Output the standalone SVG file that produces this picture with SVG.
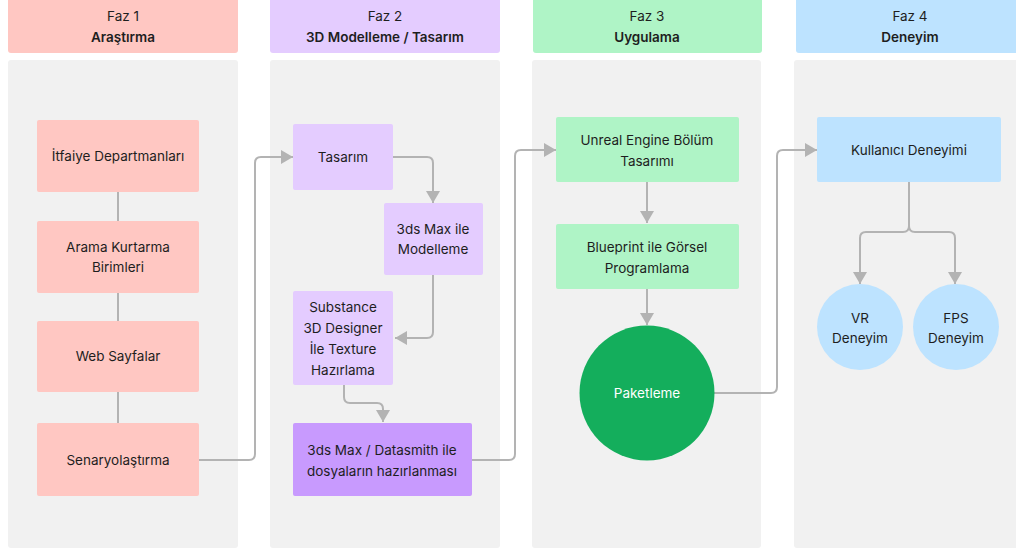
<svg xmlns="http://www.w3.org/2000/svg" width="1016" height="553" viewBox="0 0 1016 553">
<style>
text{font-family:Inter,"Noto Sans","Liberation Sans",sans-serif;font-size:13.5px;fill:#1e1e1e;text-anchor:middle;dominant-baseline:central}
.b{font-weight:600}
.panel{fill:#f1f1f1}
.p1{fill:#ffc7c2}.p2{fill:#e4ccff}.p2d{fill:#c89afe}.p3{fill:#aff4c6}.p3d{fill:#14ae5c}.p4{fill:#bde3ff}
.c{fill:none;stroke:#b3b3b3;stroke-width:2}
.w{fill:#ffffff}
</style>
<defs>
<marker id="ah" markerUnits="userSpaceOnUse" markerWidth="14" markerHeight="14" refX="12" refY="7" orient="auto">
<path d="M0,0 L12,7 L0,14 z" fill="#b3b3b3"/>
</marker>
</defs>
<g id="phases">
<rect class="p1" x="8" y="-4" width="230" height="57" rx="3"/>
<rect class="panel" x="8" y="60" width="230" height="488" rx="3"/>
<text x="123" y="16">Faz 1</text><text class="b" x="123" y="37">Araştırma</text>
<rect class="p2" x="270" y="-4" width="230" height="57" rx="3"/>
<rect class="panel" x="270" y="60" width="230" height="488" rx="3"/>
<text x="385" y="16">Faz 2</text><text class="b" x="385" y="37">3D Modelleme / Tasarım</text>
<rect class="p3" x="533" y="-4" width="229" height="57" rx="3"/>
<rect class="panel" x="532" y="60" width="229" height="488" rx="3"/>
<text x="647" y="16">Faz 3</text><text class="b" x="647" y="37">Uygulama</text>
<rect class="p4" x="796" y="-4" width="230" height="57" rx="3"/>
<rect class="panel" x="794" y="60" width="232" height="488" rx="3"/>
<text x="910" y="16">Faz 4</text><text class="b" x="910" y="37">Deneyim</text>
</g>
<g id="connectors">
<path class="c" d="M118,192 V221 M118,293 V321 M118,392 V423"/>
<path class="c" marker-end="url(#ah)" d="M199,460 H249 Q255,460 255,454 V163 Q255,157 261,157 H293"/>
<path class="c" marker-end="url(#ah)" d="M393,157 H427 Q433,157 433,163 V203"/>
<path class="c" marker-end="url(#ah)" d="M433,275 V332 Q433,338 427,338 H395"/>
<path class="c" marker-end="url(#ah)" d="M344,385 V397 Q344,403 350,403 H377 Q383,403 383,409 V422"/>
<path class="c" marker-end="url(#ah)" d="M472,460 H509 Q515,460 515,454 V156 Q515,150 521,150 H556"/>
<path class="c" marker-end="url(#ah)" d="M647,182 V223"/>
<path class="c" marker-end="url(#ah)" d="M647,289 V325"/>
<path class="c" marker-end="url(#ah)" d="M714,393 H771 Q777,393 777,387 V156 Q777,150 783,150 H817"/>
<path class="c" marker-end="url(#ah)" d="M909,182 V226 Q909,232 903,232 H866 Q860,232 860,238 V284"/>
<path class="c" marker-end="url(#ah)" d="M909,182 V226 Q909,232 915,232 H949 Q955,232 955,238 V284"/>
</g>
<g id="n-itfaiye"><rect class="p1" x="37" y="120" width="162" height="72" rx="2"/><text x="118" y="156">İtfaiye Departmanları</text></g>
<g id="n-arama"><rect class="p1" x="37" y="221" width="162" height="72" rx="2"/><text x="118" y="247">Arama Kurtarma</text><text x="118" y="267">Birimleri</text></g>
<g id="n-web"><rect class="p1" x="37" y="321" width="162" height="71" rx="2"/><text x="118" y="356">Web Sayfalar</text></g>
<g id="n-senaryo"><rect class="p1" x="37" y="423" width="162" height="73" rx="2"/><text x="118" y="460">Senaryolaştırma</text></g>
<g id="n-tasarim"><rect class="p2" x="293" y="124" width="100" height="66" rx="2"/><text x="343" y="157">Tasarım</text></g>
<g id="n-3dsmax"><rect class="p2" x="384" y="203" width="99" height="72" rx="2"/><text x="433" y="229">3ds Max ile</text><text x="433" y="249">Modelleme</text></g>
<g id="n-substance"><rect class="p2" x="293" y="291" width="100" height="94" rx="2"/><text x="343" y="307">Substance</text><text x="343" y="328">3D Designer</text><text x="343" y="349">İle Texture</text><text x="343" y="370">Hazırlama</text></g>
<g id="n-datasmith"><rect class="p2d" x="293" y="423" width="179" height="73" rx="2"/><text x="382" y="450">3ds Max / Datasmith ile</text><text x="382" y="471">dosyaların hazırlanması</text></g>
<g id="n-unreal"><rect class="p3" x="556" y="117" width="183" height="65" rx="2"/><text x="647" y="140">Unreal Engine Bölüm</text><text x="647" y="161">Tasarımı</text></g>
<g id="n-blueprint"><rect class="p3" x="556" y="224" width="183" height="65" rx="2"/><text x="647" y="247">Blueprint ile Görsel</text><text x="647" y="268">Programlama</text></g>
<g id="n-paketleme"><circle class="p3d" cx="647" cy="393" r="67.5"/><text class="w" x="647" y="393">Paketleme</text></g>
<g id="n-kullanici"><rect class="p4" x="817" y="117" width="184" height="65" rx="2"/><text x="909" y="150">Kullanıcı Deneyimi</text></g>
<g id="n-vr"><circle class="p4" cx="860" cy="327" r="43"/><text x="860" y="318">VR</text><text x="860" y="338">Deneyim</text></g>
<g id="n-fps"><circle class="p4" cx="956" cy="327" r="43"/><text x="956" y="318">FPS</text><text x="956" y="338">Deneyim</text></g>
</svg>
